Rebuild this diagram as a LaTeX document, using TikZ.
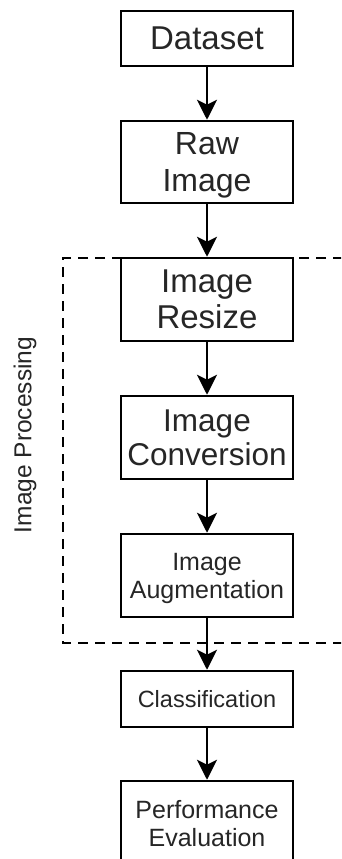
\documentclass[tikz,border=0pt]{standalone}
\usepackage{fontspec}
\setmainfont{Liberation Sans}
\usetikzlibrary{arrows.meta}
\begin{document}
\begin{tikzpicture}[x=1pt,y=1pt,
  box/.style={draw=black, line width=2.5pt, minimum width=172pt, inner sep=0pt, align=center, text depth=0pt, text=black!85},
  arr/.style={line width=2.5pt, -{Stealth[length=20pt,width=20pt,inset=5pt]}},
  grp/.style={draw=black, line width=2pt, dash pattern=on 10pt off 7pt}]
\useasboundingbox (0,0) rectangle (341,-859);
\begin{scope}
\clip (0,0) rectangle (341,-859);
\fill[white] (0,0) rectangle (341,-859);
\draw[grp] (360,-258) -- (63,-258) -- (63,-643) -- (360,-643);
\node[box, minimum height=55pt, font=\fontsize{33}{37}\selectfont] (dataset) at (207,-38.5) {Dataset};
\node[box, minimum height=82pt, font=\fontsize{32}{37}\selectfont] (raw) at (207,-162) {Raw\\Image};
\node[box, minimum height=83pt, font=\fontsize{33}{36}\selectfont] (resize) at (207,-299.5) {Image\\Resize};
\node[box, minimum height=83pt, font=\fontsize{31.5}{34}\selectfont] (conv) at (207,-437.5) {Image\\Conversion};
\node[box, minimum height=83pt, font=\fontsize{25}{28}\selectfont] (aug) at (207,-575.5) {Image\\Augmentation};
\node[box, minimum height=56pt, font=\fontsize{23.5}{27}\selectfont] (cls) at (207,-699) {Classification};
\node[box, minimum height=84pt, font=\fontsize{25}{28}\selectfont] (perf) at (207,-823) {Performance\\Evaluation};
\node[rotate=90, font=\fontsize{24.5}{28}\selectfont, text=black!85] (grplabel) at (25,-435) {Image Processing};
\draw[arr] (dataset) -- (raw);
\draw[arr] (raw) -- (resize);
\draw[arr] (resize) -- (conv);
\draw[arr] (conv) -- (aug);
\draw[arr] (aug) -- (cls);
\draw[arr] (cls) -- (perf);
\end{scope}
\end{tikzpicture}
\end{document}
